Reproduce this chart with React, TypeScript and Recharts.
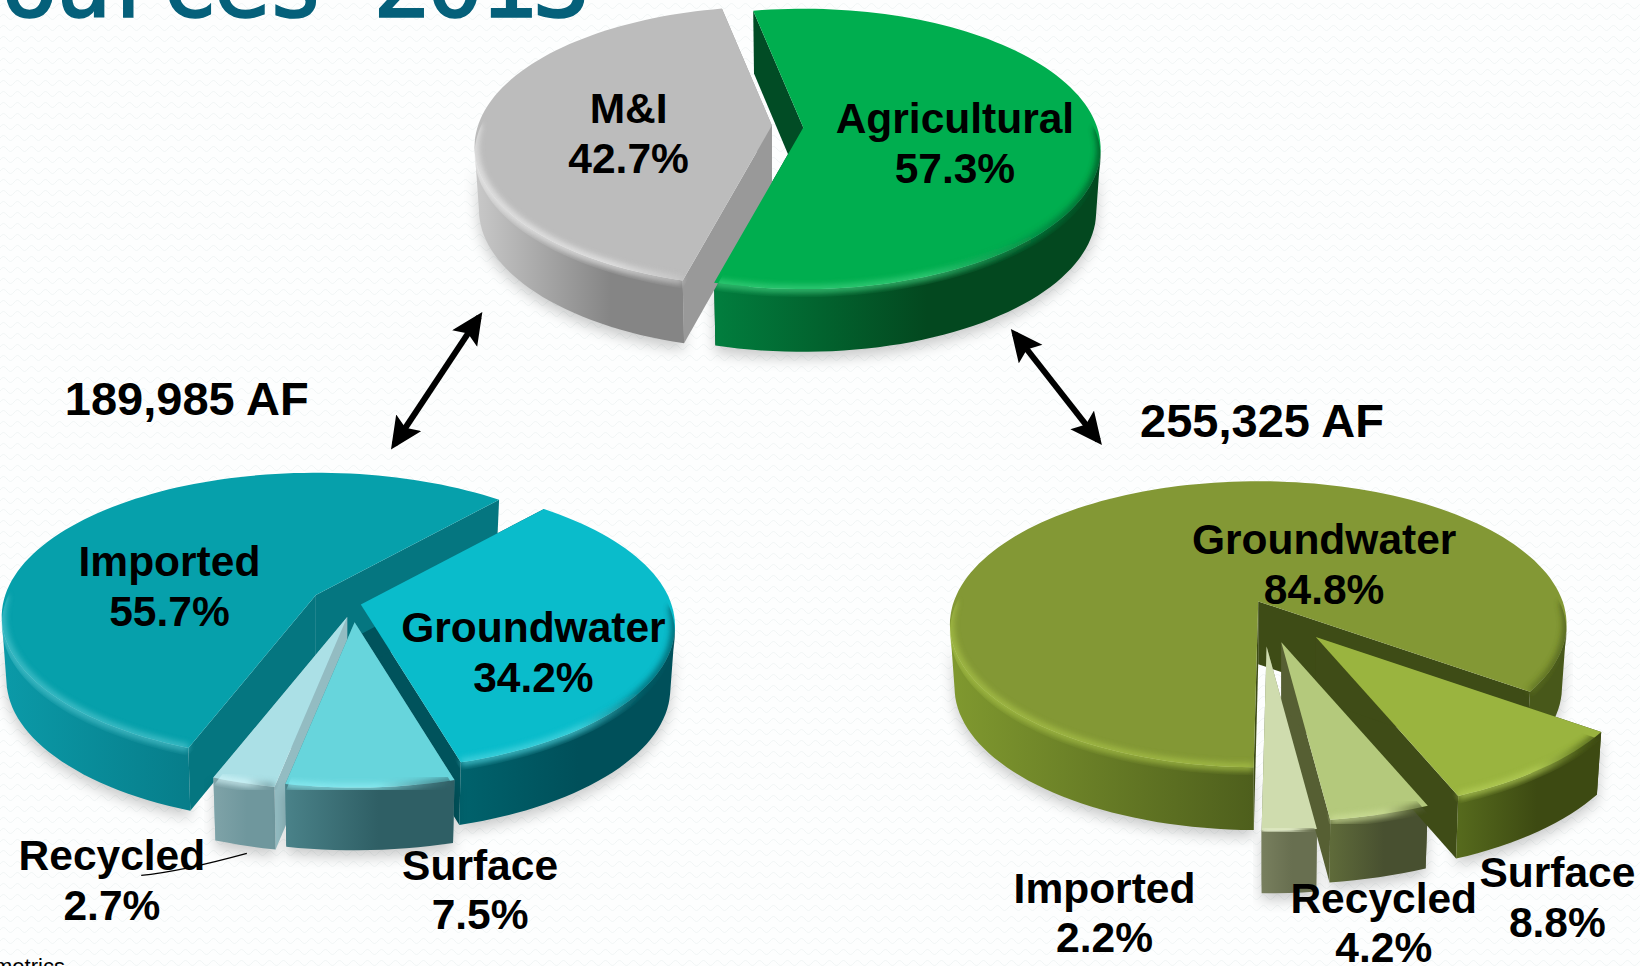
import { PieChart, Pie } from "recharts";

// slice values, in the order they are swept round each pie
const topNames = ["Agricultural", "M&I"];
const topValues = [57.3, 42.7];
const leftNames = ["Groundwater", "Imported", "Recycled", "Surface"];
const leftValues = [34.2, 55.7, 2.7, 7.5];
const rightNames = ["Groundwater", "Imported", "Recycled", "Surface"];
const rightValues = [84.8, 2.2, 4.2, 8.8];

const leftTotal = "189,985 AF";
const rightTotal = "255,325 AF";

// the reference was measured at 1568 wide
const S = 1640 / 1568;
const FONT = "'Liberation Sans', Arial, sans-serif";

type SliceStyle = {
  dx: number;
  dy: number;
  scale?: number;
  top: string;
  wallFrom: string;
  wallTo: string;
  cut: string;
  glow: string;
  lx: number;
  ly: number;
  line2?: number;
};

const topStyles: Record<string, SliceStyle> = {
  Agricultural: { dx: 0, dy: 0, top: "#00ae4f", wallFrom: "#017e3e", wallTo: "#03481f", cut: "#014c25", glow: "#3fd07f", lx: 913, ly: 127 },
  "M&I": { dx: -30, dy: -2, top: "#bcbcbc", wallFrom: "#c9c9c9", wallTo: "#858585", cut: "#999999", glow: "#ececec", lx: 601, ly: 118 },
};
const leftStyles: Record<string, SliceStyle> = {
  Groundwater: { dx: 43, dy: 9, top: "#0abccb", wallFrom: "#00626c", wallTo: "#00505a", cut: "#00535c", glow: "#4fd6e0", lx: 510, ly: 614 },
  Imported: { dx: 0, dy: 0, top: "#06a0ab", wallFrom: "#0b9aa8", wallTo: "#05707c", cut: "#057680", glow: "#4fc4cd", lx: 162, ly: 551 },
  Recycled: { dx: 30, dy: 21, scale: 1.05, top: "#abe0e6", wallFrom: "#7fa3a8", wallTo: "#6f979d", cut: "#93bcc2", glow: "#d5f6fa", lx: 107, ly: 832 },
  Surface: { dx: 37, dy: 26, top: "#67d5dc", wallFrom: "#4a8289", wallTo: "#2f5f65", cut: "#4a8289", glow: "#8fedf4", lx: 459, ly: 841 },
};
const rightStyles: Record<string, SliceStyle> = {
  Groundwater: { dx: 0, dy: 0, top: "#839835", wallFrom: "#80992f", wallTo: "#48581a", cut: "#3e4c16", glow: "#a9c24a", lx: 1266, ly: 530 },
  Imported: { dx: 8, dy: 43, scale: 1.11, top: "#cfdcae", wallFrom: "#787f5e", wallTo: "#686f50", cut: "#777f5c", glow: "#e4edcb", lx: 1056, ly: 863 },
  Recycled: { dx: 22, dy: 39, scale: 1.08, top: "#b4c97c", wallFrom: "#5f6b3a", wallTo: "#485030", cut: "#565f33", glow: "#cfe09a", lx: 1323, ly: 873, line2: 47 },
  Surface: { dx: 55, dy: 34, scale: 1.05, top: "#9ab43f", wallFrom: "#566a1d", wallTo: "#3d4a12", cut: "#3f4c17", glow: "#b5cf58", lx: 1489, ly: 848 },
};

const toRows = (names: string[], values: number[]) =>
  names.map((name, i) => ({ name, value: values[i] }));

const DEPTH = 60 * S;

// point on the tilted disc: the near side is drawn larger than the far side
function rimPoint(deg: number, r: number, k: number, p: number) {
  const t = (deg * Math.PI) / 180;
  const d = 1 + p * Math.sin(t);
  return { x: (r * Math.cos(t)) / d, y: (-k * r * Math.sin(t)) / d };
}

function sweep(a: number, b: number) {
  const n = Math.max(4, Math.ceil(Math.abs(b - a) / 2));
  const out: number[] = [];
  for (let i = 0; i <= n; i++) out.push(a + ((b - a) * i) / n);
  return out;
}

type Pt = { x: number; y: number };

const pathOf = (pts: Pt[]) =>
  pts.map((q, i) => `${i ? "L" : "M"}${q.x.toFixed(1)} ${q.y.toFixed(1)}`).join("") + "Z";

// split the rim into runs that lie on the near side of the disc
function frontRuns(angles: number[], rim: Pt[], limit: number) {
  const runs: Pt[][] = [];
  let cur: Pt[] | null = null;
  angles.forEach((a, i) => {
    if (Math.sin((a * Math.PI) / 180) < limit) {
      if (!cur) {
        cur = [];
        runs.push(cur);
      }
      cur.push(rim[i]);
    } else {
      cur = null;
    }
  });
  return runs;
}

function makeShape(pieId: string, styles: Record<string, SliceStyle>, k: number, p: number, pass: "walls" | "tops") {
  return function SliceShape(props: any) {
    const { cx, cy, outerRadius, startAngle, endAngle } = props;
    const name = props.payload?.name ?? props.name;
    const st = styles[name];
    const ox = cx + st.dx * S;
    const oy = cy + st.dy * S;
    const r = outerRadius * (st.scale ?? 1);
    const angles = sweep(startAngle, endAngle);
    const rim = angles.map((a) => {
      const q = rimPoint(a, r, k, p);
      return { x: ox + q.x, y: oy + q.y };
    });
    const apex = { x: ox, y: oy };
    const uid = `${pieId}-${name.replace(/\W/g, "")}`;
    const xs = rim.map((q) => q.x);
    const xMin = Math.min(...xs);
    const xMax = Math.max(...xs);

    if (pass === "walls") {
      // the bottom of the disc is a little narrower than its top
      const low = (q: Pt) => ({ x: ox + (q.x - ox) * 0.985, y: q.y + DEPTH });
      // the wall starts at the widest points of the disc, sin = -p
      const walls = frontRuns(angles, rim, -p).map((run) =>
        pathOf([...run, ...run.slice().reverse().map(low)])
      );
      const first = rim[0];
      const last = rim[rim.length - 1];
      const cutA = pathOf([apex, first, low(first), low(apex)]);
      const cutB = pathOf([apex, last, low(last), low(apex)]);
      return (
        <g>
          <defs>
            <linearGradient id={`${uid}-w`} gradientUnits="userSpaceOnUse" x1={xMin} x2={xMax} y1={0} y2={0}>
              <stop offset="0%" stopColor={st.wallFrom} />
              <stop offset="55%" stopColor={st.wallTo} />
              <stop offset="100%" stopColor={st.wallTo} />
            </linearGradient>
            <filter id={`${uid}-s`} x="-15%" y="-15%" width="130%" height="140%">
              <feGaussianBlur stdDeviation="7" />
            </filter>
          </defs>
          {walls.map((d, i) => (
            <path key={`s${i}`} d={d} fill="#000" opacity={0.2} transform="translate(0 7)" filter={`url(#${uid}-s)`} />
          ))}
          <path d={cutA} fill={st.cut} />
          <path d={cutB} fill={st.cut} />
          {walls.map((d, i) => (
            <path key={`w${i}`} d={d} fill={`url(#${uid}-w)`} />
          ))}
        </g>
      );
    }

    // near stretch of the rim gets a soft bevel that fades towards the right
    const bevel = frontRuns(angles, rim, 0.02)
      .map((run) => run.map((q, i) => `${i ? "L" : "M"}${q.x.toFixed(1)} ${q.y.toFixed(1)}`).join(""))
      .join("");
    return (
      <g>
        <defs>
          <linearGradient id={`${uid}-g`} gradientUnits="userSpaceOnUse" x1={xMin} x2={xMax} y1={0} y2={0}>
            <stop offset="0%" stopColor={st.glow} />
            <stop offset="55%" stopColor={st.glow} />
            <stop offset="85%" stopColor={st.wallFrom} />
            <stop offset="100%" stopColor={st.wallTo} />
          </linearGradient>
          <filter id={`${uid}-b`} x="-10%" y="-30%" width="120%" height="160%">
            <feGaussianBlur stdDeviation="3" />
          </filter>
          <clipPath id={`${uid}-c`}>
            <path d={pathOf([...rim.map((q) => ({ x: q.x, y: q.y + 8 })), apex])} />
          </clipPath>
        </defs>
        <path d={pathOf([apex, ...rim])} fill={st.top} />
        {bevel && (
          <g clipPath={`url(#${uid}-c)`}>
            <path d={bevel} fill="none" stroke={`url(#${uid}-g)`} strokeWidth={7} opacity={0.85} filter={`url(#${uid}-b)`} />
          </g>
        )}
      </g>
    );
  };
}

function makeLabel(styles: Record<string, SliceStyle>) {
  return function SliceLabel(props: any) {
    const name = props.payload?.name ?? props.name;
    const st = styles[name];
    const value = props.payload?.value ?? props.value;
    return (
      <text
        x={st.lx * S}
        y={st.ly * S}
        textAnchor="middle"
        fontFamily={FONT}
        fontWeight={700}
        fontSize={42.5}
        fill="#000"
      >
        <tspan x={st.lx * S}>{name}</tspan>
        <tspan x={st.lx * S} dy={(st.line2 ?? 47.5) * S}>{`${value.toFixed(1)}%`}</tspan>
      </text>
    );
  };
}

function Arrow({ x1, y1, x2, y2 }: { x1: number; y1: number; x2: number; y2: number }) {
  return (
    <line
      x1={x1 * S}
      y1={y1 * S}
      x2={x2 * S}
      y2={y2 * S}
      stroke="#000"
      strokeWidth={6}
      markerStart="url(#arrowHead)"
      markerEnd="url(#arrowHead)"
    />
  );
}

type PieSetup = {
  id: string;
  rows: { name: string; value: number }[];
  styles: Record<string, SliceStyle>;
  cx: number;
  cy: number;
  r: number;
  k: number;
  p: number;
  start: number;
};

const pies: PieSetup[] = [
  { id: "top", rows: toRows(topNames, topValues), styles: topStyles, cx: 768, cy: 122, r: 281, k: 0.466, p: 0.152, start: -105 },
  { id: "left", rows: toRows(leftNames, leftValues), styles: leftStyles, cx: 302, cy: 569, r: 297, k: 0.4527, p: 0.149, start: -74 },
  { id: "right", rows: toRows(rightNames, rightValues), styles: rightStyles, cx: 1203, cy: 575, r: 291, k: 0.458, p: 0.16, start: -36 },
];

export default function App() {
  return (
    <div style={{ position: "absolute", left: 0, top: 0, width: 1640, height: 966, overflow: "hidden", background: "#fdfefe" }}>
      <svg width={1640} height={966} style={{ position: "absolute", left: 0, top: 0 }}>
        <defs>
          <pattern id="weave" width={14} height={11} patternUnits="userSpaceOnUse">
            <path d="M0 6 Q3.5 1 7 6 T14 6" fill="none" stroke="#f1f5f5" strokeWidth={1} />
          </pattern>
        </defs>
        <rect width={1640} height={966} fill="url(#weave)" />
      </svg>
      <div style={{ position: "absolute", left: 0, top: 0 }}>
        <PieChart width={1640} height={966} margin={{ top: 0, right: 0, bottom: 0, left: 0 }}>
          {pies.map((pie) => (
            <Pie
              key={`${pie.id}-walls`}
              data={pie.rows}
              dataKey="value"
              nameKey="name"
              cx={pie.cx * S}
              cy={pie.cy * S}
              outerRadius={pie.r * S}
              startAngle={pie.start}
              endAngle={pie.start + 360}
              stroke="none"
              isAnimationActive={false}
              shape={makeShape(pie.id, pie.styles, pie.k, pie.p, "walls")}
            />
          ))}
          {pies.map((pie) => (
            <Pie
              key={`${pie.id}-tops`}
              data={pie.rows}
              dataKey="value"
              nameKey="name"
              cx={pie.cx * S}
              cy={pie.cy * S}
              outerRadius={pie.r * S}
              startAngle={pie.start}
              endAngle={pie.start + 360}
              stroke="none"
              isAnimationActive={false}
              labelLine={false}
              label={makeLabel(pie.styles)}
              shape={makeShape(pie.id, pie.styles, pie.k, pie.p, "tops")}
            />
          ))}
        </PieChart>
      </div>
      <svg width={1640} height={966} style={{ position: "absolute", left: 0, top: 0, pointerEvents: "none" }}>
        <defs>
          <marker id="arrowHead" markerUnits="userSpaceOnUse" markerWidth={36} markerHeight={32} refX={26} refY={15} orient="auto-start-reverse">
            <path d="M0 0 L32 15 L0 30 L6 15 Z" fill="#000" />
          </marker>
        </defs>
        <text
          x={0}
          y={16.5}
          fontFamily="'DejaVu Sans Mono', monospace"
          fontSize={98}
          letterSpacing={-5.8}
          fill="#05607a"
          stroke="#05607a"
          strokeWidth={1.6}
        >
          ources 2013
        </text>
        <Arrow x1={458} y1={303} x2={377} y2={425} />
        <Arrow x1={970} y1={319} x2={1050} y2={421} />
        <text x={62 * S} y={397 * S} fontFamily={FONT} fontWeight={700} fontSize={47}>
          {leftTotal}
        </text>
        <text x={1090 * S} y={418 * S} fontFamily={FONT} fontWeight={700} fontSize={47}>
          {rightTotal}
        </text>
        <path d={`M${135 * S} ${837 * S} Q${170 * S} ${834 * S} ${236 * S} ${816 * S}`} fill="none" stroke="#000" strokeWidth={1.3} />
        <text x={-6} y={974} fontFamily={FONT} fontSize={22} fill="#000">
          metrics
        </text>
      </svg>
    </div>
  );
}
